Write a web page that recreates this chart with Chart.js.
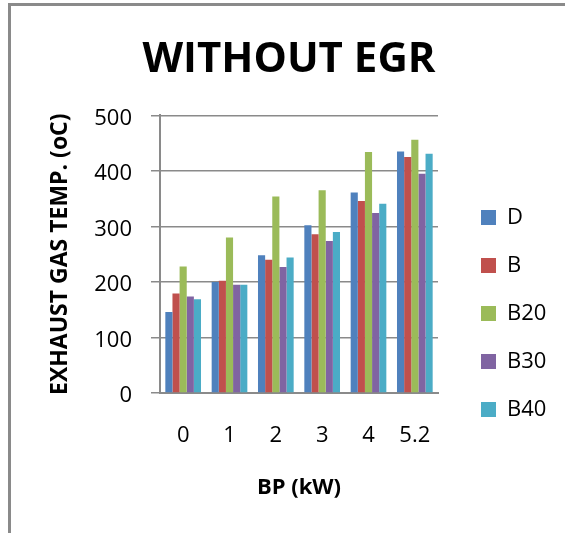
<!DOCTYPE html>
<html>
<head>
<meta charset="utf-8">
<title>Without EGR</title>
<script src="https://cdn.jsdelivr.net/npm/chart.js@4/dist/chart.umd.min.js"></script>
<style>
  body { margin: 0; background: #fff; }
  #frame { position: absolute; left: 8px; top: 3px; width: 600px; height: 600px;
           border-left: 3px solid #8a8a8a; border-top: 3px solid #8a8a8a; }
  #chart { position: absolute; left: 0; top: 0; }
</style>
</head>
<body>
<div id="frame"></div>
<canvas id="chart" width="565" height="533"></canvas>
<script>
// Data (exhaust gas temp, oC)
const loads = ['0', '1', '2', '3', '4', '5.2'];
const tempD   = [146, 200, 248, 302, 361, 435];
const tempB   = [179, 202, 240, 286, 346, 425];
const tempB20 = [228, 280, 354, 365, 434, 456];
const tempB30 = [174, 195, 227, 274, 324, 395];
const tempB40 = [169, 195, 244, 290, 341, 431];
const fuelNames = ['D', 'B', 'B20', 'B30', 'B40'];
const yTicks = [0, 100, 200, 300, 400, 500];

const colors = ['#4F81BD', '#C0504D', '#9BBB59', '#8064A2', '#4BACC6'];
const gridColor = '#8a8a8a';

Chart.defaults.font.family = "'Open Sans', sans-serif";
Chart.defaults.color = '#000';

// move the legend block a little to sit where the original has it
const legendShift = {
  id: 'legendShift',
  afterLayout(chart) {
    const lg = chart.legend;
    lg.left += 17; lg.right += 17;
    lg.top += 63; lg.bottom += 63;
  }
};

const series = [tempD, tempB, tempB20, tempB30, tempB40];

new Chart(document.getElementById('chart').getContext('2d'), {
  type: 'bar',
  data: {
    labels: loads,
    datasets: series.map((vals, i) => ({
      label: fuelNames[i],
      data: vals,
      backgroundColor: colors[i],
      borderWidth: 0,
      categoryPercentage: 0.77,
      barPercentage: 1.0
    }))
  },
  options: {
    responsive: false,
    animation: false,
    layout: { padding: { left: 40, right: 27, top: 0, bottom: 32 } },
    plugins: {
      title: {
        display: true,
        text: 'WITHOUT EGR',
        font: { size: 42, weight: 'bold' },
        padding: { top: 35, bottom: 30 }
      },
      legend: {
        position: 'right',
        maxWidth: 100,
        labels: { boxWidth: 15, boxHeight: 15, padding: 26, font: { size: 22 } }
      },
      tooltip: { enabled: false }
    },
    scales: {
      x: {
        afterFit: (axis) => { axis.height = 108; },
        grid: { display: false, drawTicks: false },
        border: { display: true, color: gridColor, width: 2 },
        ticks: { padding: 30, font: { size: 22 } },
        title: { display: true, text: 'BP (kW)', font: { size: 22, weight: 'bold' }, padding: 0 }
      },
      y: {
        min: 0, max: 500,
        afterFit: (axis) => { axis.width = 120; },
        afterBuildTicks: (axis) => { axis.ticks = yTicks.map(v => ({ value: v })); },
        grid: { color: gridColor, lineWidth: 1.5, tickLength: 9 },
        border: { display: true, color: gridColor, width: 2 },
        ticks: { padding: 19, labelOffset: 3, font: { size: 22 } },
        title: { display: true, text: 'EXHAUST GAS TEMP. (oC)', font: { size: 23, weight: 'bold' }, padding: { top: 7, bottom: 0 } }
      }
    }
  },
  plugins: [legendShift]
});
</script>
</body>
</html>
